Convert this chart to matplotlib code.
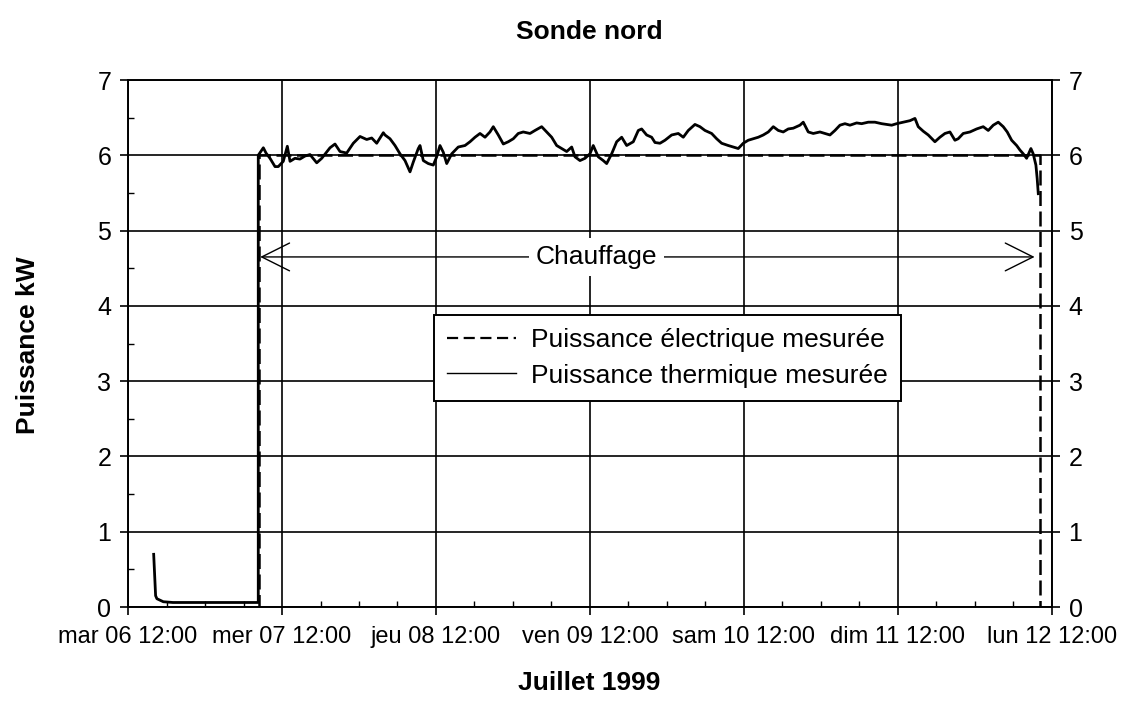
import matplotlib.pyplot as plt
from matplotlib.ticker import MultipleLocator
from matplotlib.lines import Line2D

plt.rcParams['font.family'] = ['Liberation Sans', 'DejaVu Sans']

# axe des x : heures depuis mar 06 12:00
jour_pos = [0, 24, 48, 72, 96, 120, 144]
jour_labels = ["mar 06 12:00", "mer 07 12:00", "jeu 08 12:00", "ven 09 12:00",
               "sam 10 12:00", "dim 11 12:00", "lun 12 12:00"]

t_therm = [4.0, 4.3, 4.5, 5.5, 7.0, 10.0, 14.0, 18.0, 20.3,
           20.3, 21.09, 21.51, 22.13, 22.91, 23.42, 24.20, 24.83, 25.25, 26.02,
           26.80, 27.58, 28.36, 29.41, 30.19, 31.48, 32.26, 33.04, 34.08, 35.11,
           36.16, 37.20, 37.98, 38.76, 39.79, 40.05, 40.83, 41.61, 42.39, 43.17,
           43.95, 44.46, 45.24, 45.51, 46.02, 46.80, 47.58, 48.11, 48.62, 49.14,
           49.67, 50.45, 51.47, 52.52, 53.30, 54.08, 54.86, 55.64, 56.41, 56.93,
           57.71, 58.49, 59.27, 60.05, 60.82, 61.60, 62.65, 63.43, 64.47, 65.25,
           66.03, 66.81, 67.59, 68.37, 69.15, 69.66, 70.44, 71.22, 72.00, 72.51,
           73.29, 74.07, 74.60, 75.38, 76.16, 76.94, 77.72, 78.75, 79.53, 80.05,
           80.83, 81.61, 82.13, 82.91, 83.69, 84.73, 85.76, 86.54, 87.32, 88.36,
           89.14, 89.92, 90.96, 91.74, 92.52, 93.55, 94.33, 95.11, 95.89, 96.67,
           97.45, 98.23, 99.01, 99.79, 100.57, 101.35, 102.12, 102.90, 103.68, 104.72,
           105.24, 106.02, 106.80, 107.84, 108.62, 109.40, 110.18, 110.96, 111.74, 112.52,
           113.56, 114.34, 115.37, 116.41, 117.46, 118.24, 119.02, 119.79, 120.82, 121.87,
           122.65, 123.16, 123.94, 124.72, 125.76, 126.54, 127.32, 128.10, 128.88, 129.39,
           130.17, 131.22, 132.26, 133.29, 134.07, 134.85, 135.63, 136.41, 137.03, 137.72,
           138.50, 139.01, 139.53, 140.05, 140.72, 141.08, 141.50, 141.70, 141.87]
p_therm = [0.70, 0.15, 0.11, 0.07, 0.06, 0.06, 0.06, 0.06, 0.06,
           6.00, 6.10, 6.03, 5.96, 5.85, 5.85, 5.92, 6.12, 5.92, 5.96,
           5.95, 5.99, 6.01, 5.90, 5.96, 6.10, 6.15, 6.05, 6.03, 6.16,
           6.25, 6.21, 6.23, 6.16, 6.30, 6.27, 6.22, 6.13, 6.02, 5.93,
           5.78, 5.91, 6.09, 6.13, 5.93, 5.89, 5.87, 5.98, 6.13, 6.04,
           5.89, 6.02, 6.11, 6.13, 6.18, 6.24, 6.29, 6.24, 6.31, 6.38,
           6.27, 6.15, 6.18, 6.22, 6.29, 6.31, 6.29, 6.33, 6.38, 6.31,
           6.24, 6.13, 6.09, 6.05, 6.11, 5.98, 5.93, 5.96, 6.02, 6.13,
           5.98, 5.93, 5.89, 6.02, 6.18, 6.24, 6.13, 6.18, 6.33, 6.35,
           6.27, 6.24, 6.17, 6.16, 6.20, 6.27, 6.29, 6.24, 6.33, 6.41,
           6.38, 6.33, 6.29, 6.22, 6.16, 6.13, 6.11, 6.09, 6.16, 6.20,
           6.22, 6.24, 6.27, 6.31, 6.38, 6.33, 6.31, 6.35, 6.36, 6.40,
           6.44, 6.31, 6.29, 6.31, 6.29, 6.27, 6.33, 6.40, 6.42, 6.40,
           6.43, 6.42, 6.44, 6.44, 6.42, 6.41, 6.40, 6.42, 6.44, 6.46,
           6.49, 6.38, 6.32, 6.27, 6.18, 6.24, 6.29, 6.31, 6.20, 6.22,
           6.29, 6.31, 6.35, 6.38, 6.33, 6.40, 6.44, 6.38, 6.31, 6.20,
           6.13, 6.07, 6.02, 5.96, 6.09, 6.02, 5.87, 5.69, 5.49]

# puissance electrique mesuree (kW)
t_elec = [4.0, 20.4, 20.4, 142.1, 142.1]
p_elec = [0.0, 0.0, 6.0, 6.0, 0.0]

fig = plt.figure(figsize=(11.21, 7.05), dpi=100)
ax = fig.add_axes([0.1142, 0.139, 0.8242, 0.7475])

ax.plot(t_elec, p_elec, color='black', lw=1.8, dashes=(6, 2.2), zorder=3)
ax.plot(t_therm, p_therm, color='black', lw=2.0, zorder=4)

ax.set_xlim(0, 144)
ax.set_ylim(0, 7)
ax.set_xticks(jour_pos)
ax.set_xticklabels(jour_labels, fontsize=17)
ax.xaxis.set_minor_locator(MultipleLocator(6))
ax.yaxis.set_major_locator(MultipleLocator(1))
ax.yaxis.set_minor_locator(MultipleLocator(0.5))
ax.tick_params(axis='y', labelsize=18, labelright=True, right=True)
ax.tick_params(which='major', direction='out', length=6, width=1.2, color='black', pad=6)
ax.tick_params(which='minor', direction='in', length=4, width=1.0, color='black')
ax.tick_params(axis='x', which='major', pad=8)
ax.grid(True, which='major', color='black', lw=1.2)
ax.set_axisbelow(True)
for s in ax.spines.values():
    s.set_color('black')
    s.set_linewidth(1.4)

# fleche chauffage
ax.annotate('', xy=(141.3, 4.65), xytext=(20.6, 4.65),
            arrowprops=dict(arrowstyle='<->, head_length=0.4, head_width=0.2',
                            color='black', lw=1.0, mutation_scale=50,
                            shrinkA=0, shrinkB=0), zorder=5)
ax.text(73, 4.65, 'Chauffage', ha='center', va='center', fontsize=19, zorder=6,
        bbox=dict(facecolor='white', edgecolor='none', pad=5))

handles = [Line2D([], [], color='black', lw=1.6, dashes=(5, 2.5)),
           Line2D([], [], color='black', lw=1.0)]
leg = ax.legend(handles, ["Puissance électrique mesurée", "Puissance thermique mesurée"],
                loc='center', bbox_to_anchor=(0.584, 0.473), fontsize=19,
                fancybox=False, framealpha=1, edgecolor='black',
                handlelength=2.6, handletextpad=0.6, borderpad=0.5, labelspacing=0.45)
leg.get_frame().set_linewidth(1.4)
leg.set_zorder(10)

fig.text(0.526, 0.955, 'Sonde nord', ha='center', va='center', fontsize=19, fontweight='bold')
fig.text(0.526, 0.031, 'Juillet 1999', ha='center', va='center', fontsize=19, fontweight='bold')
fig.text(0.025, 0.511, 'Puissance kW', ha='center', va='center', rotation=90,
         fontsize=19, fontweight='bold')

fig.savefig('out.png', dpi=100)
